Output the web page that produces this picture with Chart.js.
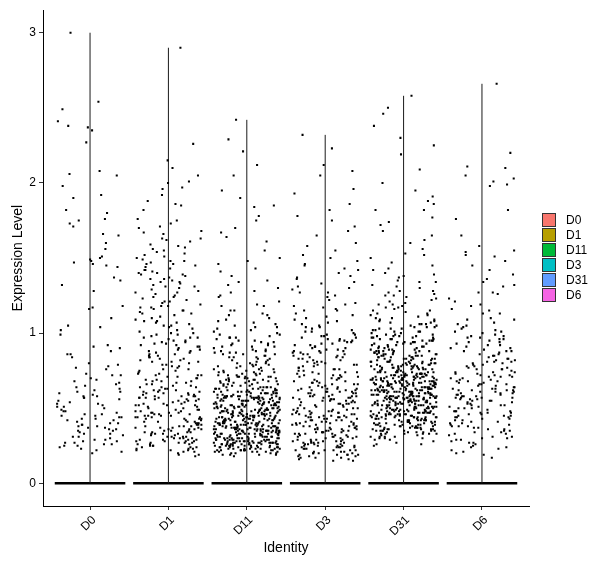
<!DOCTYPE html>
<html><head><meta charset="utf-8">
<script src="https://cdn.jsdelivr.net/npm/chart.js@4.4.0/dist/chart.umd.min.js"></script>
<style>html,body{margin:0;padding:0;background:#fff;}#wrap{width:600px;height:568px;}</style>
</head><body><div id="wrap"><canvas id="c" width="600" height="568"></canvas></div>
<script>
const categories = ['D0','D1','D11','D3','D31','D6'];
const legendColors = ['#F8766D','#B79F00','#00BA38','#00BFC4','#619CFF','#F564E3'];
const yTickValues = [0,1,2,3];
// Non-zero expression values per identity, in hundredths (zeros form the band at 0)
const valuesD0 = [42,254,61,33,147,88,29,51,176,38,66,300,45,118,24,57,92,35,205,70,48,151,31,26,80,165,43,62,249,37,105,53,28,73,190,40,99,59,137,34,46,241,22,67,84,150,39,56,182,30,116,50,77,27,208,44,65,171,36,91,55,145,25,47,238,69,32,102,58,160,41,79,20,198,52,86,35,149,63,23,117,49,76,206,38,144,57,27,110,45,235,72,31,166,60,43,90,54,192,28,135,48,78,37,156,61,25,104,44,227,68,33,146,53,29,175,40,86,58,21,132,46,180,64,36,148,51,26,173,42,237,72,39,128];
const valuesD1 = [34,72,118,45,27,136,88,52,163,41,95,23,67,142,38,58,105,81,29,149,
47,226,62,31,127,99,55,84,19,171,43,113,36,76,138,25,60,92,49,155,
33,68,121,44,290,57,28,86,146,39,101,64,22,132,51,79,167,30,110,46,
215,37,73,125,26,94,53,158,41,63,117,35,82,143,21,56,197,48,107,70,
32,89,134,43,61,24,151,54,98,38,77,119,29,66,201,45,140,58,85,27,
50,112,36,74,163,42,93,128,31,59,20,147,65,104,40,83,210,52,122,34,
71,23,136,47,97,57,173,30,87,115,44,62,145,26,78,192,39,108,55,131,
28,68,152,49,91,35,124,60,81,22,139,46,100,188,37,72,114,53,157,33,
64,96,41,130,25,80,200,56,118,31,75,148,43,90,59,166,27,106,48,135,
38,69,185,52,102,29,84,127,45,61,144,34,93,21,116,57,175,40,79,141,
26,65,109,50,154,36,88,124,42,73,196,31,99,58,137,24,82,47,161,63,
39,111,54,92,30,146,67,18,121,44,76,170,35,103,61,133,28,86,49,159,
55,37,97,142,23,71,115,46,182,33,89,60,129,41,78,150,27,107,52,66,
32,168,57,94,43,126,70,22,139,48,85,113,36,205,62,100,29,153,51,75,
40,120,25,87,64,148,34,108,53,176,30,81,45,134,68,19,97,56,162,38,
72,123,47,91,28,156,59,105,37,83,140,24,69,186,44,117,33,95,58,131];
const valuesD11 = [23,45,68,31,52,87,19,38,57,104,26,49,72,34,61,135,41,28,93,55,
36,58,22,47,79,30,54,113,27,42,66,184,35,51,24,88,44,62,29,39,
48,25,71,33,56,97,21,43,64,37,128,52,30,46,81,26,59,40,205,32,
41,63,28,50,76,35,57,24,92,45,31,67,118,38,53,22,84,47,148,29,
55,34,74,42,27,60,99,36,49,20,70,44,167,33,58,25,86,51,39,107,
30,46,65,23,53,78,37,43,141,28,61,48,32,90,56,21,69,40,242,35,
52,27,73,39,58,19,83,45,34,62,110,26,50,41,77,31,57,95,24,44,
38,60,29,47,71,33,54,132,22,43,66,37,89,51,28,59,175,35,46,25,
49,31,75,42,18,57,101,36,63,27,53,80,40,24,68,45,155,32,55,39,
26,51,70,35,44,96,23,58,37,64,28,121,47,33,85,52,20,61,41,212,
43,29,67,54,36,91,25,48,74,39,57,30,115,46,22,62,34,82,50,27,
57,38,72,21,45,99,33,60,26,53,138,41,69,30,48,87,24,55,36,178,
32,50,66,40,23,78,47,35,58,106,28,44,63,19,93,52,37,71,42,29,
46,26,81,38,55,31,64,124,43,22,59,36,76,49,27,97,40,56,33,195,
54,35,69,24,48,88,30,61,42,112,27,51,73,37,20,58,45,150,32,65,
29,47,62,39,56,84,25,43,70,34,51,102,22,60,41,79,31,53,127,38,
40,61,27,50,75,36,45,94,23,57,33,68,48,161,28,54,39,86,44,26,
52,30,64,43,21,77,37,59,109,25,49,72,35,56,29,91,46,38,67,229,
35,55,24,47,80,31,62,40,119,27,53,69,42,21,58,98,36,49,33,143,
44,28,73,51,37,57,89,23,46,65,30,104,54,39,26,82,48,61,32,170,
27,49,66,34,53,22,85,41,60,36,125,45,29,71,55,38,95,24,63,47,
58,33,76,42,25,50,103,37,64,28,56,87,44,19,68,35,134,52,40,31,
39,60,26,48,72,33,55,97,21,45,63,36,115,50,29,78,42,57,190,34,
51,23,68,40,57,30,83,46,35,61,26,108,53,38,74,43,22,92,49,146,
33,54,41,27,63,79,36,48,24,58,100,44,31,70,52,37,88,25,60,221,
46,29,65,53,38,20,86,42,57,32,74,49,118,27,55,40,67,35,164,45,
25,50,71,37,59,94,43,31,62,28,52,80,39,23,56,105,47,34,69,130,
42,58,30,48,75,35,22,64,45,91,27,53,39,112,33,60,50,26,84,185];
const valuesD3 = [24,46,83,31,62,105,18,55,37,129,72,27,94,41,150,66,33,88,52,20,
58,35,77,115,26,49,98,40,68,182,29,53,86,15,61,133,44,74,22,107,
38,91,19,57,70,46,158,32,81,25,63,119,43,95,28,52,76,36,205,60,
21,48,85,34,67,102,27,56,142,40,73,17,90,50,124,31,64,45,168,80,
54,29,96,39,71,23,59,112,44,84,32,136,61,19,78,47,193,36,99,26,
42,65,18,87,51,117,30,74,56,155,24,93,38,68,127,46,82,21,60,232,
33,79,48,104,25,62,41,89,16,70,146,53,28,97,37,58,113,44,75,22,
66,27,92,45,131,35,57,20,84,49,175,31,72,108,39,63,24,86,55,140,
47,17,69,100,34,81,53,122,28,61,42,95,23,76,160,50,36,88,58,208,
30,73,44,110,22,64,38,91,55,137,26,78,48,15,67,101,35,83,41,186,
59,25,87,40,120,33,70,52,148,19,62,45,96,29,77,116,37,57,23,94,
43,68,21,82,54,106,31,74,46,165,27,60,39,99,18,85,50,130,34,71,
26,56,92,36,115,49,20,79,42,143,32,65,57,103,24,88,45,171,38,63,
51,19,75,44,98,28,67,40,125,55,34,86,16,61,109,47,80,30,152,223,
37,62,25,90,48,134,22,71,53,101,35,81,43,17,66,118,29,97,56,196,
20,58,84,33,111,46,27,76,39,93,60,145,24,69,50,127,31,87,42,64,
54,28,79,41,104,19,63,47,89,36,138,25,72,58,178,34,95,44,22,212];
const valuesD31 = [45,62,81,38,57,96,71,33,54,118,66,87,41,59,26,75,104,50,137,68,
52,74,35,63,89,47,112,58,80,31,69,99,44,55,162,77,39,61,85,258,
67,42,58,93,72,36,51,125,64,83,48,105,29,57,76,143,40,69,91,53,
34,60,79,46,101,55,70,37,88,65,115,49,62,182,43,73,95,56,32,81,
59,76,40,66,53,108,84,44,61,130,71,35,97,57,78,48,152,63,25,90,
70,47,86,58,33,67,94,52,121,74,39,62,83,45,106,56,191,68,41,238,
43,64,77,51,98,36,60,87,46,113,72,55,31,82,66,140,49,75,58,103,
56,38,73,92,61,45,80,68,127,34,57,100,77,48,63,168,42,86,54,71,
62,82,35,59,108,50,74,42,93,65,27,79,53,134,69,44,88,58,117,47,
39,67,55,96,72,48,61,122,37,84,57,104,65,30,78,52,174,70,45,225,
75,51,64,41,89,58,110,68,36,81,54,97,46,73,147,60,33,86,63,50,
48,70,83,57,34,66,101,44,78,59,128,52,91,40,68,112,55,195,62,37,
65,43,78,54,95,31,71,60,85,47,119,67,39,76,56,156,49,92,73,58,
53,76,40,69,87,57,106,46,63,80,35,98,61,72,138,50,44,83,66,209,
68,55,36,74,91,49,62,114,42,79,58,102,66,28,85,51,131,70,47,64,
41,60,84,52,71,99,38,67,56,124,45,76,89,59,33,105,64,182,53,73,
58,79,46,63,37,88,55,72,109,49,65,93,42,77,54,145,61,36,81,69,
72,50,66,94,44,59,83,35,70,116,57,75,47,100,62,29,87,53,165,230,
46,68,57,81,39,96,63,52,74,126,43,67,85,56,107,48,71,34,90,60,
63,41,77,55,102,67,32,80,59,135,50,73,45,94,61,119,38,78,54,186,
55,73,49,86,62,40,69,111,57,82,44,97,66,30,76,153,52,88,64,47,
38,61,80,53,72,95,46,68,120,59,85,35,64,103,51,77,42,142,70,200,
60,48,74,65,33,90,56,79,107,43,69,52,128,62,87,39,58,98,73,45,
47,66,84,58,41,75,99,54,71,115,37,63,82,49,160,68,26,92,57,250,
71,53,39,78,61,104,46,67,88,56,132,42,74,60,95,50,81,36,113,64,
57,81,44,69,93,51,64,37,86,123,59,72,48,101,66,30,79,177,54,70,
42,62,76,55,98,47,68,84,35,110,61,77,52,139,65,43,89,57,74,219,
66,49,85,59,71,40,94,63,117,54,80,45,69,33,103,58,150,76,51,62,
50,72,57,88,43,67,106,60,78,38,96,53,125,64,83,46,71,31,188,246,
61,44,79,52,91,65,36,74,109,56,86,48,70,134,58,41,97,67,172,55];
const valuesD6 = [35,58,77,92,44,113,66,24,85,51,136,71,40,99,62,155,29,80,47,266,
54,73,31,88,61,104,45,19,70,126,56,83,38,95,64,176,27,52,109,220,
67,42,81,57,33,97,74,118,49,22,86,60,142,39,78,53,101,68,30,199,
46,63,90,36,75,56,107,25,82,48,131,65,41,94,59,17,72,158,50,210,
79,28,61,98,43,69,84,54,121,34,76,91,47,66,20,102,58,148,37,203,
55,71,39,87,62,110,48,26,78,96,57,134,44,68,82,32,115,60,165,201,
41,64,93,52,73,23,105,59,85,45,127,70,36,89,63,151,50,77,29,198,
62,48,80,34,97,57,119,44,74,21,88,66,139,53,92,38,71,106,55,182,
76,38,59,101,46,83,27,68,123,55,90,42,72,145,61,33,96,51,113,205,
50,69,31,86,58,98,43,116,65,79,24,103,47,132,74,37,60,152,81,57,
45,63,88,35,72,109,52,81,40,94,67,127,30,56,154,76,48,100,62,211];
// fixed horizontal jitter offsets (category units), reused cyclically
const jitterOffsets = [-0.31,0.12,0.38,-0.05,-0.22,0.27,0.03,-0.40,0.18,-0.14,0.33,-0.27,0.08,0.41,-0.36,-0.09,0.23,-0.18,0.36,0.00,-0.33,0.15,-0.24,0.29,-0.02,0.39,-0.12,0.06,-0.38,0.21,-0.29,0.11,0.34,-0.07,-0.20,0.25,-0.35,0.02,0.31,-0.16,0.17,-0.42,0.09,0.37,-0.25,0.14,-0.11,0.40,-0.32,0.26,-0.04,0.20,-0.19];
const jitterFine = [0.021,-0.013,0.006,-0.027,0.015,-0.004,0.028,-0.019,0.010,-0.008,0.002];

const groups = [valuesD0, valuesD1, valuesD11, valuesD3, valuesD31, valuesD6];

const points = [];
groups.forEach((arr, g) => {
  arr.forEach((v, i) => {
    let dx = jitterOffsets[(i + g * 17) % jitterOffsets.length] + jitterFine[(i + g * 3) % jitterFine.length];
    dx = Math.max(-0.42, Math.min(0.42, dx));
    points.push({x: g + 1 + dx, y: v / 100});
  });
});

const datasets = [{
  type: 'scatter', data: points, pointStyle: 'rect', pointRadius: 1.45,
  backgroundColor: '#000', borderWidth: 0, pointHoverRadius: 1.45
}];
groups.forEach((arr, g) => {
  const top = Math.max(...arr) / 100;
  datasets.push({type: 'line', data: [{x: g + 1, y: 0}, {x: g + 1, y: top}],
    borderColor: '#1a1a1a', borderWidth: 1, pointRadius: 0, showLine: true, fill: false});
  datasets.push({type: 'line', data: [{x: g + 1 - 0.45, y: 0}, {x: g + 1 + 0.45, y: 0}],
    borderColor: '#000', borderWidth: 2.6, pointRadius: 0, showLine: true, fill: false});
});

const FONT = 'Liberation Sans, Arial, sans-serif';

const legendPlugin = {
  id: 'legendBox',
  afterDraw(chart) {
    const ctx = chart.ctx;
    ctx.save();
    categories.forEach((c, i) => {
      const y = 213 + i * 15;
      ctx.fillStyle = legendColors[i];
      ctx.fillRect(542, y, 14, 14);
      ctx.strokeStyle = '#333';
      ctx.lineWidth = 1;
      ctx.strokeRect(542.5, y + 0.5, 13, 13);
      ctx.fillStyle = '#000';
      ctx.font = '12px ' + FONT;
      ctx.textAlign = 'left';
      ctx.textBaseline = 'middle';
      ctx.fillText(c, 566, y + 7.5);
    });
    ctx.restore();
  }
};

new Chart(document.getElementById('c'), {
  type: 'scatter',
  data: {datasets},
  options: {
    responsive: false, animation: false, devicePixelRatio: 1,
    layout: {padding: {left: 0, right: 71, top: 3, bottom: 0}},
    plugins: {legend: {display: false}, tooltip: {enabled: false}},
    events: [],
    scales: {
      x: {
        type: 'linear', min: 0.4, max: 6.6,
        afterBuildTicks: s => { s.ticks = categories.map((c, i) => ({value: i + 1})); },
        afterFit: s => { s.height = 62; },
        ticks: {autoSkip: false, minRotation: 45, maxRotation: 45, color: '#000',
          font: {family: FONT, size: 12}, padding: 3, labelOffset: 4,
          callback: v => categories[Math.round(v) - 1]},
        grid: {drawOnChartArea: false, drawTicks: true, tickLength: 4, color: '#333'},
        border: {display: true, color: '#000', width: 1},
        title: {display: true, text: 'Identity', color: '#000', font: {family: FONT, size: 14},
          padding: {top: 0, bottom: 11}}
      },
      y: {
        type: 'linear', min: -0.151, max: 3.15,
        afterBuildTicks: s => { s.ticks = yTickValues.map(v => ({value: v})); },
        afterFit: s => { s.width = 43; },
        ticks: {color: '#000', font: {family: FONT, size: 12}, padding: 3,
          callback: v => String(v)},
        grid: {drawOnChartArea: false, drawTicks: true, tickLength: 4, color: '#333'},
        border: {display: true, color: '#000', width: 1},
        title: {display: true, text: 'Expression Level', color: '#000', font: {family: FONT, size: 14},
          padding: {top: 10, bottom: 0}}
      }
    }
  },
  plugins: [legendPlugin]
});
</script></body></html>
